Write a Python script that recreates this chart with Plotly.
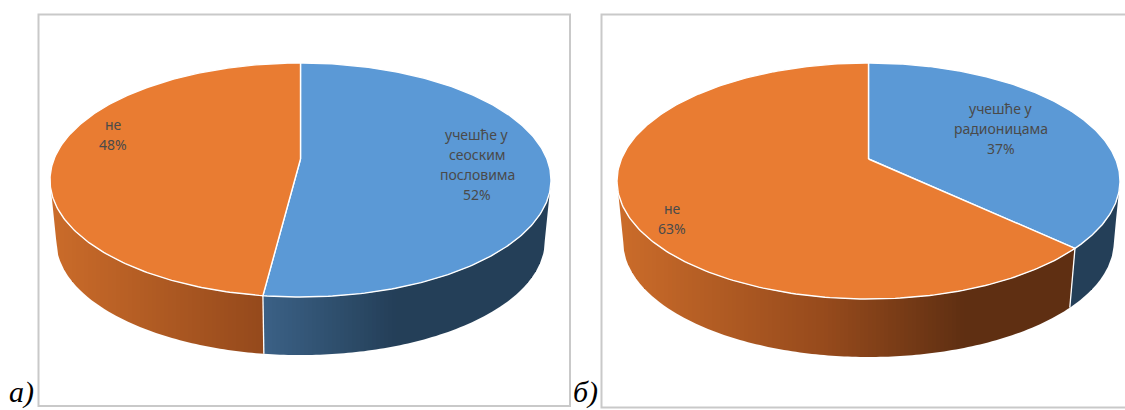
import numpy as np
import plotly.graph_objects as go

# Survey shares, clockwise from twelve o'clock
left_labels = [["учешће у", "сеоским", "пословима"], ["не"]]
left_shares = [52, 48]
right_labels = [["учешће у", "радионицама"], ["не"]]
right_shares = [37, 63]

# Face colours and side-wall shading (fraction of the way across the pie -> rgb)
FACE = ["#5B99D6", "#E97C32"]
WALL_STOPS = [0.0, 0.6, 1.0]
WALL = [
    [(74, 122, 170), (60, 98, 136), (36, 63, 88)],
    [(203, 108, 42), (150, 74, 28), (95, 47, 18)],
]

WIDTH, HEIGHT = 1125, 410
WALL_DROP = 61.5
WALL_SHRINK = 0.975
BAND = 4  # width of one shading band on the wall


def projector(cx, half_width, apex, top, bottom):
    """Perspective view of the tilted disc: angle in degrees -> canvas x, y."""
    back, front = apex - top, bottom - apex
    k = (front - back) / (front + back)
    b = back * (1 + k)
    a = half_width * np.sqrt(1 - k * k)

    def at(theta, shrink=1.0, drop=0.0):
        t = np.radians(theta)
        d = 1 + k * np.cos(t)
        return (
            cx + shrink * a * np.sin(t) / d,
            apex + drop - shrink * b * np.cos(t) / d,
        )

    # The rim is widest here, so the visible wall runs between these two angles
    widest = np.degrees(np.arccos(-k))
    return at, widest, 360 - widest


def wall_colour(series, frac):
    frac = min(max(frac, 0.0), 1.0)
    rgb = [np.interp(frac, WALL_STOPS, [s[c] for s in WALL[series]]) for c in range(3)]
    return "rgb({:.0f},{:.0f},{:.0f})".format(*rgb)


def clip_half(points, limit, keep_right):
    """Cut a polygon with a vertical line, keeping one side of it."""
    out = []
    for (x0, y0), (x1, y1) in zip(points, points[1:] + points[:1]):
        in0 = x0 >= limit if keep_right else x0 <= limit
        in1 = x1 >= limit if keep_right else x1 <= limit
        if in0:
            out.append((x0, y0))
        if in0 != in1:
            out.append((limit, y0 + (y1 - y0) * (limit - x0) / (x1 - x0)))
    return out


def add_pie(fig, shares, cx, half_width, bottom):
    at, wall_from, wall_to = projector(cx, half_width, 159, 63, bottom)
    edges = np.concatenate([[0], np.cumsum(shares) / np.sum(shares) * 360])
    left = cx - half_width
    span = 1.38 * half_width
    seams = []

    # Side wall first, cut into vertical shaded bands, so the top face sits over it
    for i in range(len(shares)):
        lo, hi = max(edges[i], wall_from), min(edges[i + 1], wall_to)
        if hi <= lo:
            continue
        if wall_from < edges[i] < wall_to:
            seams.append(edges[i])
        arc = np.linspace(lo, hi, 200)
        tx, ty = at(arc)
        bx, by = at(arc[::-1], WALL_SHRINK, WALL_DROP)
        outline = list(zip(np.r_[tx, bx].tolist(), np.r_[ty, by].tolist()))
        start = int(np.floor(min(p[0] for p in outline) / BAND)) * BAND
        stop = int(np.ceil(max(p[0] for p in outline) / BAND)) * BAND
        for x0 in range(start, stop, BAND):
            piece = clip_half(clip_half(outline, x0, True), x0 + BAND, False)
            if len(piece) < 3:
                continue
            colour = wall_colour(i, (x0 + BAND / 2 - left) / span)
            xs, ys = zip(*(piece + piece[:1]))
            fig.add_trace(go.Scatter(
                x=xs, y=ys, mode="lines", fill="toself", fillcolor=colour,
                line=dict(color=colour, width=0),
                hoverinfo="skip", showlegend=False,
            ))

    # White seams where one slice meets the next on the wall
    for theta in seams:
        tx, ty = at(theta)
        bx, by = at(theta, WALL_SHRINK, WALL_DROP)
        fig.add_trace(go.Scatter(
            x=[tx, bx], y=[ty, by], mode="lines",
            line=dict(color="white", width=1.3),
            hoverinfo="skip", showlegend=False,
        ))

    # Top face slices
    cy_x, cy_y = at(0, 0.0)
    for i in range(len(shares)):
        arc = np.linspace(edges[i], edges[i + 1], 240)
        ax, ay = at(arc)
        fig.add_trace(go.Scatter(
            x=np.r_[cy_x, ax, cy_x], y=np.r_[cy_y, ay, cy_y],
            mode="lines", fill="toself", fillcolor=FACE[i],
            line=dict(color="white", width=1.4),
            hoverinfo="skip", showlegend=False,
        ))


fig = go.Figure()
add_pie(fig, left_shares, 300.5, 250.5, 297)
add_pie(fig, right_shares, 868.5, 251.5, 299)


def stacked_label(lines, share, x, y):
    """Category name and percentage, centred, one line every 20 px."""
    for n, text in enumerate(lines + [f"{share}%"]):
        fig.add_annotation(
            x=x, y=y + 20 * n, text=text, showarrow=False,
            font=dict(family="Noto Sans", size=14, color="#4A4A4A"),
            xanchor="center", yanchor="middle",
        )


stacked_label(left_labels[0], left_shares[0], 477, 134)
stacked_label(left_labels[1], left_shares[1], 113, 124)
stacked_label(right_labels[0], right_shares[0], 1001, 108)
stacked_label(right_labels[1], right_shares[1], 672, 208)

# Panel letters
for letter, x in (("а)", 21), ("б)", 585)):
    fig.add_annotation(
        x=x, y=392, text=f"<i>{letter}</i>", showarrow=False,
        font=dict(family="Liberation Serif", size=30, color="black"),
        xanchor="center", yanchor="middle",
    )

# Panel frames
frame = dict(type="rect", line=dict(color="#C9C9C9", width=2), layer="below")
fig.update_layout(
    shapes=[
        dict(frame, x0=38.5, y0=14.5, x1=570, y1=406),
        dict(frame, x0=601.5, y0=14.5, x1=1130, y1=407.5),
    ],
    width=WIDTH, height=HEIGHT,
    margin=dict(l=0, r=0, t=0, b=0),
    paper_bgcolor="white", plot_bgcolor="white",
    showlegend=False,
    xaxis=dict(range=[0, WIDTH], visible=False, fixedrange=True),
    yaxis=dict(range=[HEIGHT, 0], visible=False, fixedrange=True),
)

fig.write_html("out.html", config=dict(displayModeBar=False))
